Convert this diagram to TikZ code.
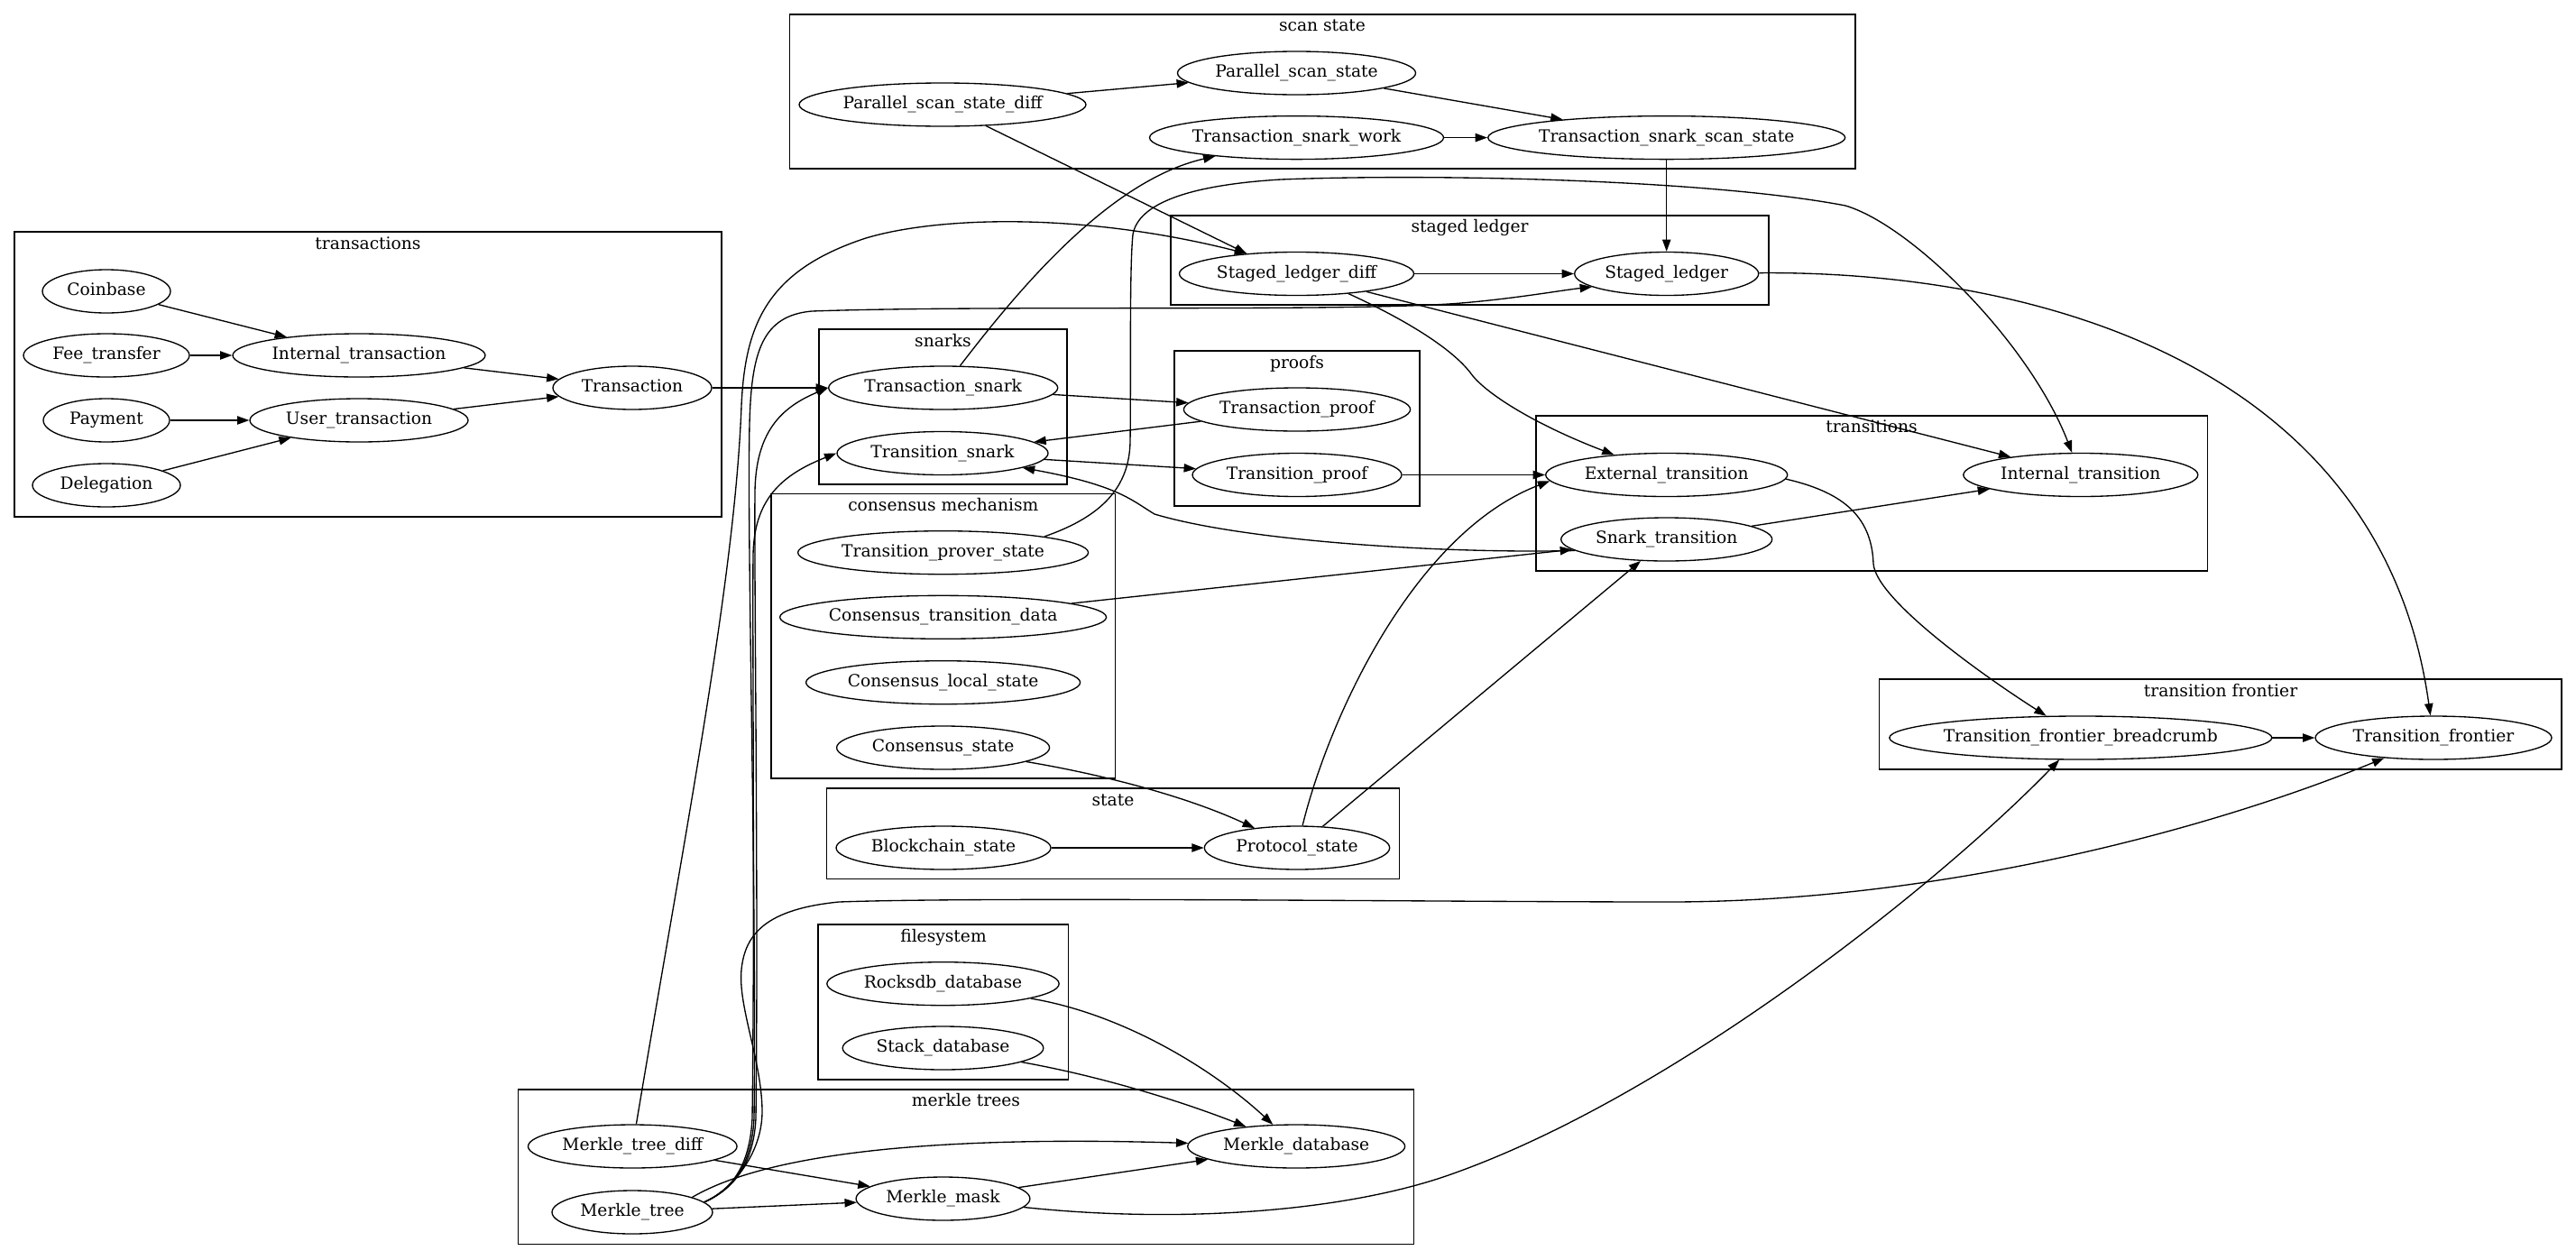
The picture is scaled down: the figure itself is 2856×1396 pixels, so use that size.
\documentclass[tikz,border=0pt]{standalone}
\usepackage{fontspec}
\setmainfont{DejaVu Serif}
\usetikzlibrary{shapes.geometric,arrows.meta}
\newcommand{\gvfont}{\fontsize{14pt}{16pt}\selectfont}
\tikzset{
  ell/.style={draw, ellipse, line width=1pt, inner sep=0pt, minimum height=36pt},
  lbl/.style={inner sep=0pt, font=\gvfont, text height=10pt, text depth=3pt},
  clus/.style={draw, line width=1pt},
  ctitle/.style={inner sep=0pt, font=\gvfont, text height=10pt, text depth=3pt, anchor=center},
  edge/.style={line width=1pt, -{Triangle[length=10pt,width=7pt]}}
}
\newcommand{\gvnode}[5]{\node[ell, minimum width=#2, label={[lbl]center:#5}] (#1) at (#3,#4) {};}
\begin{document}
\begin{tikzpicture}[x=0.75pt,y=-0.75pt]
\fill[white] (0,0) rectangle (2856,1396);
\useasboundingbox (0,0) rectangle (2856,1396);

% ---------- clusters ----------
\draw[clus] (16,257) rectangle (800,573);
\node[ctitle] (ttx) at (408,272) {transactions};
\draw[clus] (875.5,16) rectangle (2057,187);
\node[ctitle] (tscan) at (1466,30) {scan state};
\draw[clus] (1298,239) rectangle (1961,338);
\node[ctitle] (tsl) at (1629.5,253) {staged ledger};
\draw[clus] (908,365) rectangle (1183,537);
\node[ctitle] (tsn2) at (1045.5,380) {snarks};
\draw[clus] (1302,389) rectangle (1574,561);
\node[ctitle] (tpr) at (1438,404) {proofs};
\draw[clus] (1703,461) rectangle (2447.6,633);
\node[ctitle] (ttr) at (2075,475) {transitions};
\draw[clus] (855,547.7) rectangle (1236.6,863);
\node[ctitle] (tcm) at (1045.8,562) {consensus mechanism};
\draw[clus] (916.5,874) rectangle (1551.7,974.7);
\node[ctitle] (tst) at (1234,889) {state};
\draw[clus] (2083.8,753) rectangle (2840,853);
\node[ctitle] (ttf) at (2462,768) {transition frontier};
\draw[clus] (907,1025) rectangle (1184.8,1197);
\node[ctitle] (tfs) at (1046,1040) {filesystem};
\draw[clus] (574.7,1208) rectangle (1567.8,1379.7);
\node[ctitle] (tmt) at (1071,1222) {merkle trees};

% ---------- nodes ----------
\gvnode{cb}{106.5pt}{118}{323}{Coinbase}
\gvnode{ft}{138pt}{118}{394}{Fee\_transfer}
\gvnode{pay}{105pt}{118}{466}{Payment}
\gvnode{del}{123pt}{118}{538}{Delegation}
\gvnode{it}{210pt}{398}{394}{Internal\_transaction}
\gvnode{ut}{181.5pt}{398}{466}{User\_transaction}
\gvnode{tx}{132pt}{701}{430}{Transaction}

\gvnode{pssd}{238.5pt}{1045}{116}{Parallel\_scan\_state\_diff}
\gvnode{pss}{198pt}{1437.5}{81}{Parallel\_scan\_state}
\gvnode{tsw}{244.5pt}{1437.5}{152.6}{Transaction\_snark\_work}
\gvnode{tsss}{297pt}{1847.7}{152.6}{Transaction\_snark\_scan\_state}

\gvnode{sld}{195pt}{1437.5}{303.5}{Staged\_ledger\_diff}
\gvnode{sl}{153pt}{1847.7}{303.5}{Staged\_ledger}

\gvnode{tsn}{190.5pt}{1045.7}{430}{Transaction\_snark}
\gvnode{trs}{175.5pt}{1045}{502.5}{Transition\_snark}

\gvnode{tp}{188.4pt}{1438}{454}{Transaction\_proof}
\gvnode{trp}{174pt}{1438}{526.5}{Transition\_proof}

\gvnode{et}{201pt}{1847.7}{526.5}{External\_transition}
\gvnode{st}{175.5pt}{1847.7}{598}{Snark\_transition}
\gvnode{itr}{195pt}{2306.8}{526.5}{Internal\_transition}

\gvnode{tps}{241.5pt}{1045.6}{612.7}{Transition\_prover\_state}
\gvnode{ctd}{271.5pt}{1045.6}{684.3}{Consensus\_transition\_data}
\gvnode{cls}{228pt}{1045.6}{756.7}{Consensus\_local\_state}
\gvnode{cs}{177pt}{1045.6}{829}{Consensus\_state}

\gvnode{bs}{178.5pt}{1046}{940}{Blockchain\_state}
\gvnode{ps}{154pt}{1438}{940}{Protocol\_state}

\gvnode{tfb}{318pt}{2306.8}{818}{Transition\_frontier\_breadcrumb}
\gvnode{tf}{196.5pt}{2698}{818}{Transition\_frontier}

\gvnode{rdb}{193pt}{1045.5}{1090.7}{Rocksdb\_database}
\gvnode{sdb}{167pt}{1045.5}{1162}{Stack\_database}

\gvnode{mtd}{173.7pt}{701.3}{1271}{Merkle\_tree\_diff}
\gvnode{mt}{133.5pt}{701}{1344}{Merkle\_tree}
\gvnode{mm}{144.6pt}{1045.5}{1329}{Merkle\_mask}
\gvnode{mdb}{180.7pt}{1437.2}{1271}{Merkle\_database}

% ---------- edges ----------
\draw[edge] (cb) -- (it);
\draw[edge] (ft) -- (it);
\draw[edge] (pay) -- (ut);
\draw[edge] (del) -- (ut);
\draw[edge] (it) -- (tx);
\draw[edge] (ut) -- (tx);
\draw[edge] (tx) -- (tsn);

\draw[edge] (pssd) -- (pss);
\draw[edge] (pss) -- (tsss);
\draw[edge] (tsw) -- (tsss);
\draw[edge] (pssd) -- (sld.158);
\draw[edge] (tsss) -- (sl);
\draw[edge] (sld) -- (sl);
\draw[edge] (sld.-21) .. controls (1570,360) and (1612,390) .. (1630,413)
                      .. controls (1645,435) and (1700,470) .. (et);
\draw[edge] (sld) -- (itr);
\draw[edge] (sl) .. controls (2250,300) and (2640,400) .. (tf);

\draw[edge] (tsn) .. controls (1130,320) and (1230,200) .. (tsw);
\draw[edge] (tsn) -- (tp);
\draw[edge] (tp) -- (trs);
\draw[edge] (trs) -- (trp);
\draw[edge] (trp) -- (et);
\draw[edge] (st.187) .. controls (1600,614) and (1380,600) .. (1280,570)
                     .. controls (1255,555) and (1240,538) .. (trs);

\draw[edge] (tps.9) .. controls (1215,575) and (1252,545) .. (1253,490)
                    .. controls (1254,420) and (1252,300) .. (1256,260)
                    .. controls (1262,225) and (1320,205) .. (1420,199)
                    .. controls (1600,192) and (1900,200) .. (2046,228)
                    .. controls (2120,250) and (2250,380) .. (itr);
\draw[edge] (ctd) -- (st);
\draw[edge] (cs) .. controls (1230,860) and (1320,885) .. (ps);
\draw[edge] (bs) -- (ps);
\draw[edge] (ps) .. controls (1475,790) and (1570,590) .. (et.183);
\draw[edge] (ps) -- (st);
\draw[edge] (st) -- (itr);
\draw[edge] (et.-2) .. controls (2040,545) and (2075,570) .. (2077,625)
                    .. controls (2080,665) and (2200,750) .. (tfb);
\draw[edge] (tfb) -- (tf);

\draw[edge] (rdb) .. controls (1250,1125) and (1350,1190) .. (mdb);
\draw[edge] (sdb) .. controls (1230,1195) and (1320,1225) .. (mdb);
\draw[edge] (mtd) -- (mm);
\draw[edge] (mt) -- (mm);
\draw[edge] (mt.14) .. controls (840,1285) and (1000,1258) .. (mdb);
\draw[edge] (mm) -- (mdb);
\draw[edge] (mm) .. controls (1300,1356) and (1480,1345) .. (1600,1305)
                 .. controls (1850,1220) and (2150,980) .. (tfb);

% Merkle_tree -> Transition_frontier
\draw[edge] (mt.8) .. controls (810,1320) and (846,1280) .. (845,1230)
                   .. controls (844,1175) and (818,1115) .. (822,1075)
                   .. controls (826,1035) and (850,1008) .. (930,1000)
                   .. controls (1100,994) and (1600,1000) .. (1850,1000)
                   .. controls (2150,1000) and (2450,920) .. (tf);
% Merkle_tree_diff -> Staged_ledger_diff
\draw[edge] (mtd) .. controls (760,920) and (815,640) .. (822,450)
                  .. controls (826,360) and (850,300) .. (960,264)
                  .. controls (1040,240) and (1200,235) .. (sld.158);
% Merkle_tree -> Staged_ledger
\draw[edge] (mt.8) .. controls (805,1322) and (833,1300) .. (836,1240)
                   .. controls (839,1000) and (828,600) .. (831,470)
                   .. controls (833,390) and (845,350) .. (900,345)
                   .. controls (1100,338) and (1500,346) .. (1620,336)
                   .. controls (1680,331) and (1730,322) .. (sl.190);
% Merkle_tree -> Transaction_snark
\draw[edge] (mt.8) .. controls (805,1322) and (835,1300) .. (838,1240)
                   .. controls (841,1000) and (836,640) .. (837,545)
                   .. controls (838,480) and (865,452) .. (tsn.west);
% Merkle_tree -> Transition_snark
\draw[edge] (mt.8) .. controls (805,1322) and (831,1300) .. (834,1240)
                   .. controls (837,1000) and (834,700) .. (835,615)
                   .. controls (836,555) and (865,527) .. (trs.west);
\end{tikzpicture}
\end{document}
